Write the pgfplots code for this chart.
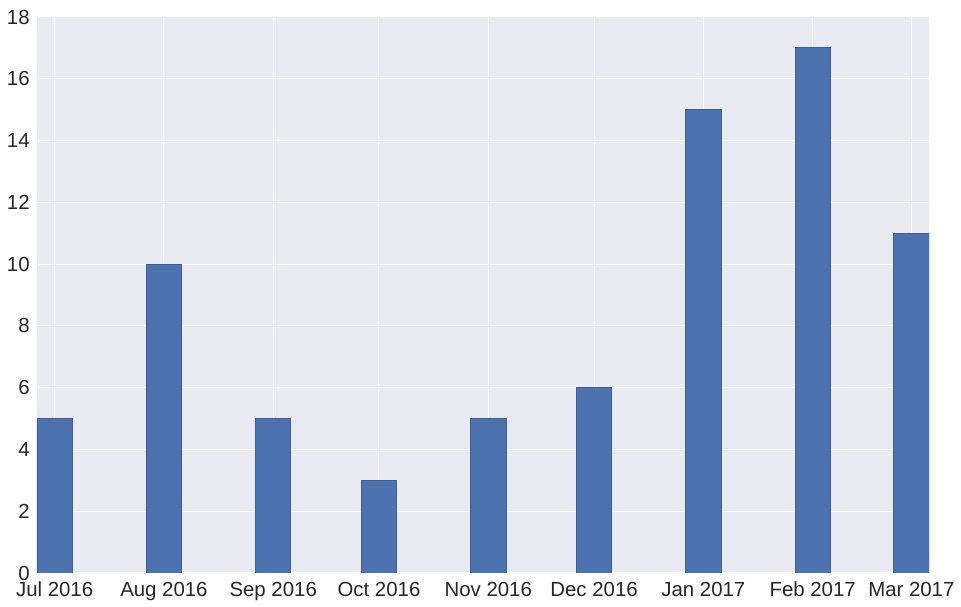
\documentclass[border=0pt]{standalone}
\usepackage{fontspec}
\setmainfont{Liberation Sans}
\usepackage{pgfplots}
\pgfplotsset{compat=1.18}
\definecolor{sbbg}{HTML}{EAEAF2}
\definecolor{sbblue}{HTML}{4C72B0}
\definecolor{sbedge}{HTML}{3F5F94}
\definecolor{sbtext}{HTML}{262626}
\begin{document}
\fontsize{10.2}{12.2}\selectfont
\begin{tikzpicture}
\begin{axis}[
  name=ax,
  scale only axis,
  width=446pt, height=278pt,
  xmin=-5, xmax=248,
  ymin=0, ymax=18,
  xtick={0,31,62,92,123,153,184,215,243},
  xticklabels={Jul 2016,Aug 2016,Sep 2016,Oct 2016,Nov 2016,Dec 2016,Jan 2017,Feb 2017,Mar 2017},
  ytick={0,2,...,18},
  grid=major,
  major grid style={white, line width=0.5pt},
  axis background/.style={fill=sbbg},
  axis line style={draw=none},
  tick style={draw=none},
  /pgf/number format/assume math mode=true,
  ticklabel style={font=\fontsize{10.2}{12.2}\selectfont, text=sbtext},
  xticklabel style={inner sep=0pt, anchor=base, yshift=-12pt},
  yticklabel style={inner sep=0pt, anchor=east, xshift=-3.5pt},
]
\addplot[ybar, bar width=10, fill=sbblue, draw=sbedge, line width=0.4pt] coordinates {
  (0,5) (31,10) (62,5) (92,3) (123,5) (153,6) (184,15) (215,17) (243,11)
};
\end{axis}
\pgfresetboundingbox
\useasboundingbox ([xshift=-18.5pt,yshift=-17pt]ax.south west) rectangle ([xshift=16pt,yshift=8.5pt]ax.north east);
\end{tikzpicture}
\end{document}
